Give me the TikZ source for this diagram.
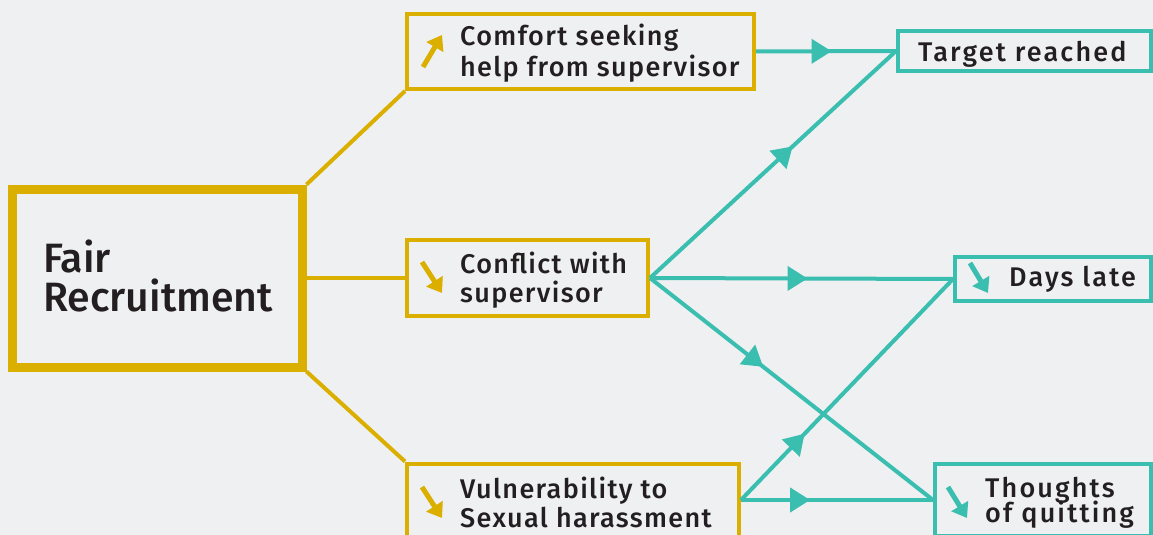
\documentclass[tikz,border=0pt]{standalone}
\usepackage{fontspec}
\setmainfont{Fira Sans}[UprightFont={* Medium}]
\usetikzlibrary{arrows.meta,decorations.markings}
\definecolor{bg}{HTML}{EFF0F2}
\definecolor{gold}{HTML}{DAAF00}
\definecolor{teal}{HTML}{3ABEB0}
\definecolor{ink}{HTML}{231F20}
\begin{document}
\begin{tikzpicture}[x=1pt,y=-1pt,
  goldbox/.style={draw=gold,line width=4pt,inner sep=0pt,minimum width=#1},
  tealbox/.style={draw=teal,line width=4pt,inner sep=0pt,minimum width=#1},
  txt/.style={anchor=base west,inner sep=0pt,text=ink,font=\fontsize{27}{31}\selectfont\addfontfeature{LetterSpace=5}},
  ttxt/.style={anchor=base west,inner sep=0pt,text=ink,font=\fontsize{27}{31}\selectfont\addfontfeature{LetterSpace=8}},
  bigtxt/.style={anchor=base west,inner sep=0pt,text=ink,font=\fontsize{41}{48}\selectfont},
  goldline/.style={draw=gold,line width=4pt},
  tealline/.style={draw=teal,line width=4pt,postaction={decorate},
    decoration={markings,mark=at position #1 with {\arrow{Triangle[length=20pt,width=24pt]}}}},
  goldicon/.style={draw=gold,fill=gold,line width=5pt,-{Triangle[length=14pt,width=19pt]}},
  tealicon/.style={draw=teal,fill=teal,line width=5pt,-{Triangle[length=14pt,width=19pt]}},
]
\useasboundingbox (0,0) rectangle (1153,535);
\fill[bg] (0,0) rectangle (1153,535);

% boxes
\node[draw=gold,line width=9pt,minimum width=290pt,minimum height=178pt,inner sep=0pt] (fair) at (157,278) {};
\node[goldbox=347pt,minimum height=75pt] (b1) at (580.5,51.5) {};
\node[goldbox=241pt,minimum height=76pt] (b2) at (527.5,278) {};
\node[goldbox=332pt,minimum height=73pt] (b3) at (573,500) {};
\node[tealbox=253pt,minimum height=40pt] (t1) at (1024.5,51) {};
\node[tealbox=196pt,minimum height=44pt] (t2) at (1053,279) {};
\node[tealbox=216pt,minimum height=72pt] (t3) at (1043,500) {};

% texts
\node[bigtxt] (fa) at (43,272) {Fair};
\node[bigtxt] (fb) at (43,311) {Recruitment};
\node[txt] (b1a) at (460,46) {Comfort seeking};
\node[txt] (b1b) at (460,77) {help from supervisor};
\node[txt] (b2a) at (460,273) {Conflict with};
\node[txt] (b2b) at (460,302) {supervisor};
\node[txt] (b3a) at (460,498) {Vulnerability to};
\node[txt] (b3b) at (460,527) {Sexual harassment};
\node[ttxt] (t1a) at (918,61) {Target reached};
\node[ttxt] (t2a) at (1009,286) {Days late};
\node[ttxt] (t3a) at (985,497) {Thoughts};
\node[ttxt] (t3b) at (985,522) {of quitting};

% icons
\draw[goldicon] (423,67) -- (442,35);
\draw[goldicon] (422,262) -- (442,293);
\draw[goldicon] (422,487) -- (442,518);
\draw[tealicon] (970,263) -- (988,293);
\draw[tealicon] (948,487) -- (967,518);

% gold connectors
\draw[goldline] (fair.north east) -- (b1.south west);
\draw[goldline] (fair.east) -- (b2.west);
\draw[goldline] (fair.south east) -- (b3.north west);

% teal connectors
\draw[tealline=0.54] (b1.east) -- (t1.west);
\draw[tealline=0.58] (b2.east) -- (t1.west);
\draw[tealline=0.52] (b2.east) -- (t2.west);
\draw[tealline=0.40] (b2.east) -- (t3.west);
\draw[tealline=0.30] (b3.east) -- (t2.west);
\draw[tealline=0.36] (b3.east) -- (t3.west);
\end{tikzpicture}
\end{document}
